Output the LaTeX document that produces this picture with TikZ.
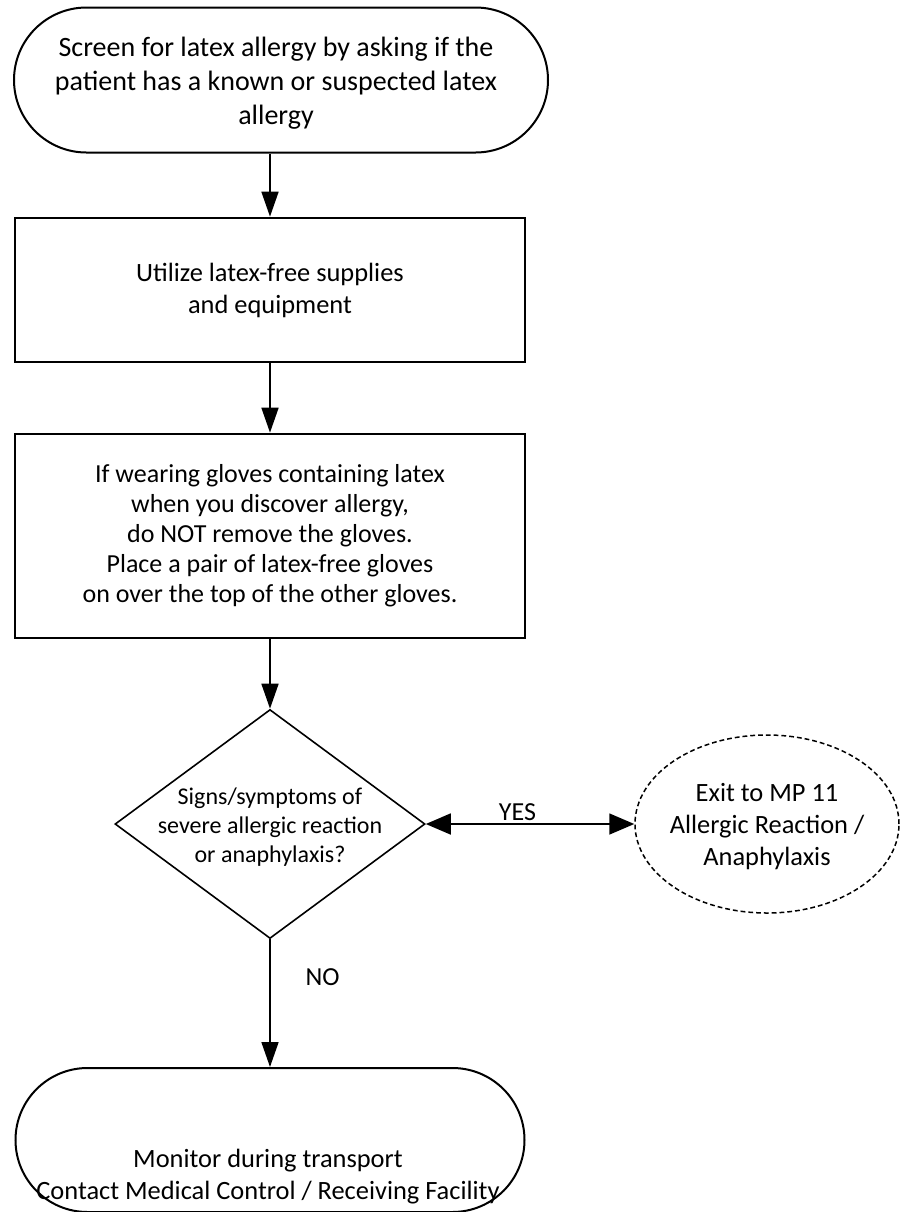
\documentclass[tikz,border=0pt]{standalone}
\usepackage{fontspec}
\setmainfont{Carlito}
\usetikzlibrary{arrows.meta, shapes.geometric, shapes.misc}

\begin{document}
\begin{tikzpicture}[x=0.5pt, y=-0.5pt, >={Triangle[length=12.5pt, width=8.5pt]},
        flow/.style={->, line width=0.85pt},
        yesflow/.style={<->, line width=0.85pt, >={Triangle[length=12.5pt, width=10.5pt]}},
        terminal/.style={draw, rounded rectangle, line width=1pt, align=center, inner sep=0pt},
        process/.style={draw, rectangle, line width=1.35pt, align=center, inner sep=0pt},
        decision/.style={draw, diamond, line width=0.8pt, inner sep=0pt},
        exitnode/.style={draw, ellipse, dash pattern=on 2.4pt off 1.5pt, line width=0.75pt, inner sep=0pt},
        toptxt/.style={align=center, font=\fontsize{14}{17}\selectfont},
        bigtxt/.style={align=center, font=\fontsize{13.2}{16}\selectfont},
        midtxt/.style={align=center, font=\fontsize{13}{15}\selectfont},
        smalltxt/.style={align=center, font=\fontsize{12}{14.3}\selectfont}]

        \useasboundingbox (0,0) rectangle (902,1212);

        % ==========================================
        % 1. Start: screening
        % ==========================================
        \node[terminal, minimum width=267pt, minimum height=72.5pt] (screen) at (281,80) {};
        \node[toptxt] (screentxt) at (276,83)
            {Screen for latex allergy by asking if the\\ patient has a known or suspected latex\\ allergy};

        % ==========================================
        % 2. Process boxes
        % ==========================================
        \node[process, bigtxt, minimum width=255pt, minimum height=72pt] (utilize) at (270,290)
            {Utilize latex-free supplies\\ and equipment};
        \node[process, midtxt, minimum width=255pt, minimum height=102pt] (gloves) at (270,536)
            {If wearing gloves containing latex\\ when you discover allergy,\\ do NOT remove the gloves.\\ Place a pair of latex-free gloves\\ on over the top of the other gloves.};

        % ==========================================
        % 3. Decision and exit
        % ==========================================
        \node[decision, minimum width=155pt, minimum height=114.5pt] (signs) at (270,824) {};
        \node[smalltxt] (signstxt) at (270,827) {Signs/symptoms of\\ severe allergic reaction\\ or anaphylaxis?};

        \node[exitnode, minimum width=132pt, minimum height=89pt] (exit) at (767,824) {};
        \node[bigtxt] (exittxt) at (767,827) {Exit to MP 11\\ Allergic Reaction /\\ Anaphylaxis};

        % ==========================================
        % 4. End: monitor
        % ==========================================
        \node[terminal, minimum width=254.5pt, minimum height=72pt] (monitor) at (270,1140) {};
        \node[bigtxt] (monitortxt) at (268,1177) {Monitor during transport\\ Contact Medical Control / Receiving Facility};

        % connectors
        \draw[flow] (screen.south -| utilize.north) -- (utilize.north);
        \draw[flow] (utilize) -- (gloves);
        \draw[flow] (gloves) -- (signs);
        \draw[yesflow] (signs.east) -- node[pos=0.44, above, inner sep=1pt, font=\fontsize{13}{16}\selectfont] (yeslbl) {YES} (exit.west);
        \draw[flow] (signs.south) -- node[pos=0.3, right, xshift=14pt, font=\fontsize{13}{16}\selectfont] (nolbl) {NO} (monitor.north);

\end{tikzpicture}
\end{document}
